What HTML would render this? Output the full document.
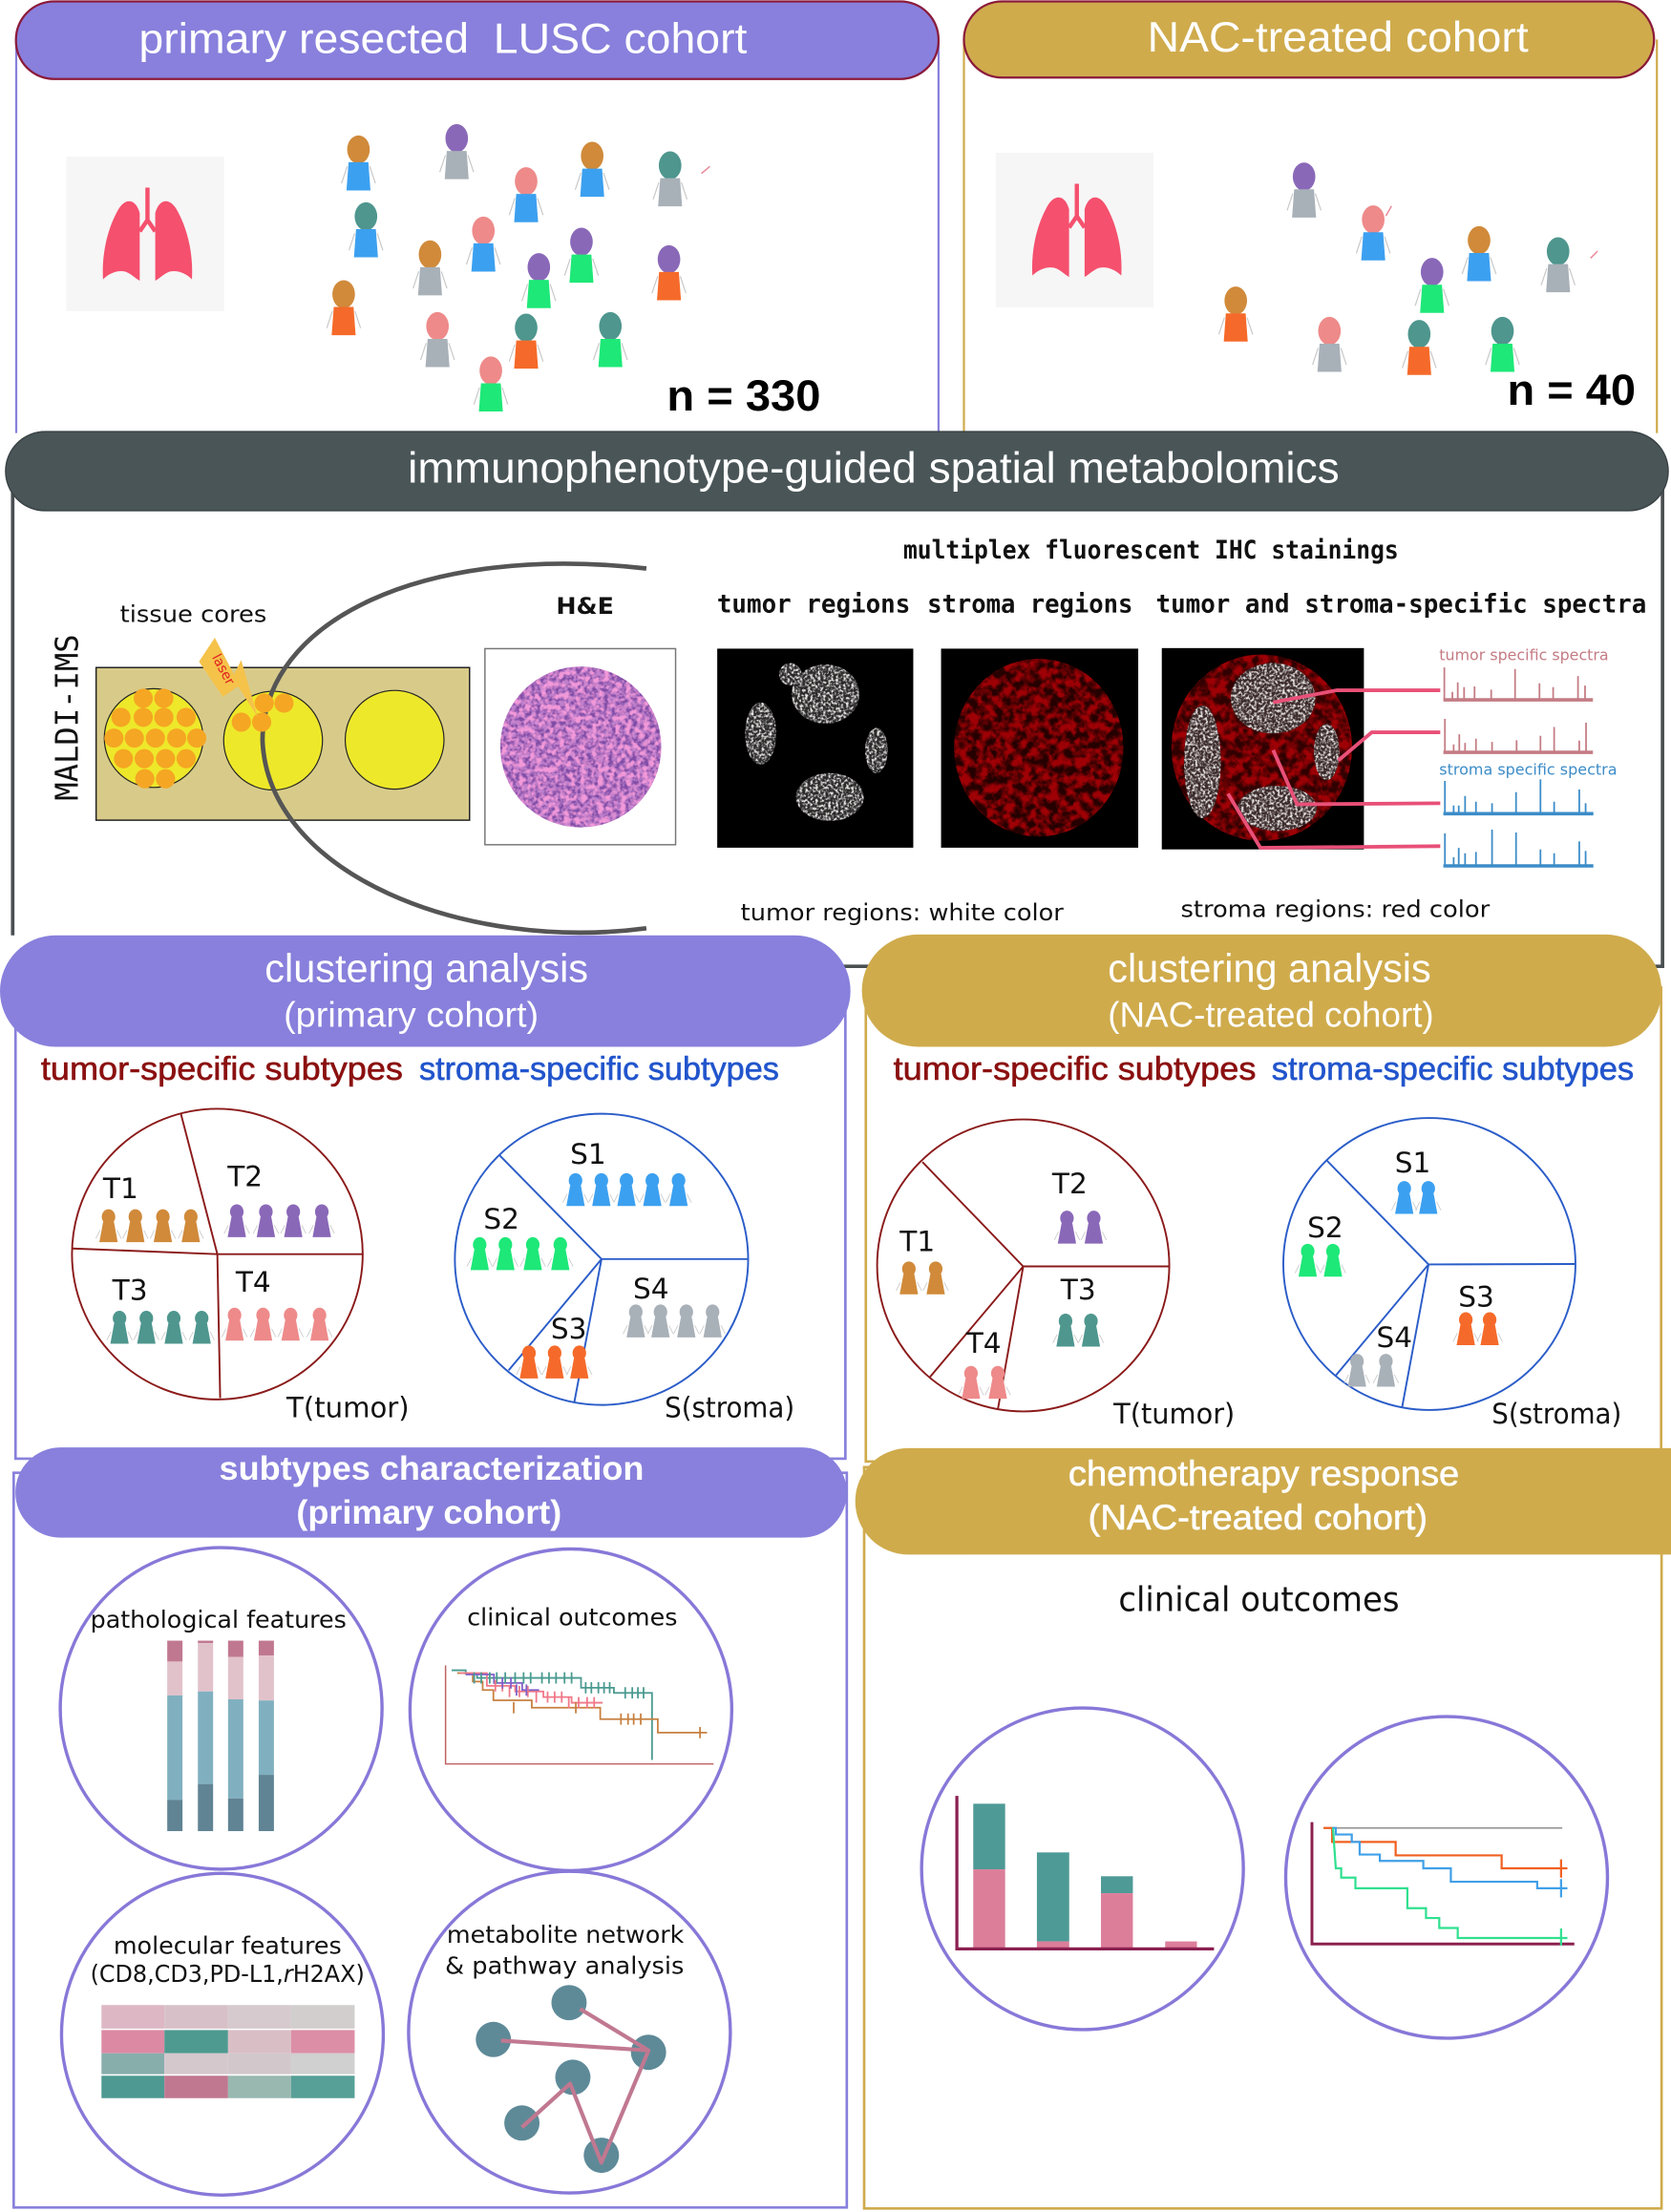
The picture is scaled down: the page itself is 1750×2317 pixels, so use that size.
<!DOCTYPE html>
<html><head><meta charset="utf-8"><style>html,body{margin:0;padding:0;background:#fff}svg{display:block}</style></head>
<body>
<svg xmlns="http://www.w3.org/2000/svg" width="1750" height="2317" viewBox="0 0 1184 1568" preserveAspectRatio="none">
<defs>
  <g id="P">
    <ellipse cx="0" cy="0" rx="8" ry="10" fill="currentColor"/>
    <path d="M-7,9 L7,9 L8.5,29 L-8.5,29Z"/>
    <path d="M-8,12 L-12,24 M8,12 L12,24" stroke="#c8c8c8" stroke-width="0.8" fill="none"/>
  </g>
  <g id="q">
    <ellipse cx="0" cy="-6.5" rx="4.8" ry="5.3"/>
    <path d="M-3.8,-3 L3.8,-3 L6.5,11.5 L-6.5,11.5Z"/>
    <path d="M-6,3 L-9,9 M6,3 L9,9" stroke="#ccc" stroke-width="0.6" fill="none"/>
  </g>
  <filter id="fw" x="-5%" y="-5%" width="110%" height="110%" color-interpolation-filters="sRGB">
    <feTurbulence type="fractalNoise" baseFrequency="0.55" numOctaves="2" seed="4" result="n"/>
    <feColorMatrix in="n" type="matrix" values="0 0 0 0 0.92  0 0 0 0 0.9  0 0 0 0 0.9  3.6 0 0 0 -1.55" result="m"/>
    <feComposite in="m" in2="SourceGraphic" operator="in"/>
  </filter>
  <filter id="fr" x="-5%" y="-5%" width="110%" height="110%" color-interpolation-filters="sRGB">
    <feTurbulence type="fractalNoise" baseFrequency="0.16" numOctaves="3" seed="7" result="n"/>
    <feColorMatrix in="n" type="matrix" values="0 0 0 0 0.62  0 0 0 0 0.0  0 0 0 0 0.02  3.2 0 0 0 -1.1" result="m"/>
    <feComposite in="m" in2="SourceGraphic" operator="in"/>
  </filter>
  <filter id="fp" x="-5%" y="-5%" width="110%" height="110%" color-interpolation-filters="sRGB">
    <feTurbulence type="fractalNoise" baseFrequency="0.35" numOctaves="2" seed="9" result="n"/>
    <feColorMatrix in="n" type="matrix" values="0 0 0 0 0.5  0 0 0 0 0.3  0 0 0 0 0.65  4 0 0 0 -1.5" result="m"/>
    <feComposite in="m" in2="SourceGraphic" operator="in"/>
  </filter>
  <filter id="fk" x="-5%" y="-5%" width="110%" height="110%" color-interpolation-filters="sRGB">
    <feTurbulence type="fractalNoise" baseFrequency="0.25" numOctaves="2" seed="13" result="n"/>
    <feColorMatrix in="n" type="matrix" values="0 0 0 0 0.95  0 0 0 0 0.6  0 0 0 0 0.85  4 0 0 0 -1.7" result="m"/>
    <feComposite in="m" in2="SourceGraphic" operator="in"/>
  </filter>
  <g id="lung">
    <rect x="46.9" y="111" width="111.9" height="109.6" fill="#f6f6f6"/>
    <path d="M99,151 C96,140 88,140 83,150 C76,163 72,180 73,198 C78,193 85,191 90,193 C94,195 97,198 99,199 Z" fill="#F5506E"/>
    <path d="M110,151 C113,140 121,140 126,150 C133,163 137,180 136,198 C131,193 124,191 119,193 C115,195 112,198 110,199 Z" fill="#F5506E"/>
    <path d="M104.5,133 V158 M104.5,156 L99,164 M104.5,156 L110,164" stroke="#F5506E" stroke-width="3" fill="none"/>
  </g>
</defs>

<!-- ===== Top cohort panels ===== -->
<path d="M11.5,28 V307 M665,28 V307" stroke="#8880DC" stroke-width="1.5" fill="none"/>
<path d="M683,28 V307 M1174,28 V307" stroke="#CFAB4C" stroke-width="1.5" fill="none"/>
<rect x="11.3" y="1" width="653.7" height="55" rx="27" fill="#8880DC" stroke="#8B1A3A" stroke-width="1.5"/>
<rect x="683" y="1" width="489" height="54" rx="27" fill="#CFAB4C" stroke="#8B1A3A" stroke-width="1.5"/>
<text x="98.4" y="37.5" font-family="Liberation Sans, Arial, sans-serif" font-size="30" fill="#fff" textLength="431" lengthAdjust="spacingAndGlyphs">primary resected &#160;LUSC cohort</text>
<text x="813" y="36.5" font-family="Liberation Sans, Arial, sans-serif" font-size="30" fill="#fff" textLength="270" lengthAdjust="spacingAndGlyphs">NAC-treated cohort</text>

<use href="#lung"/>
<use href="#lung" transform="translate(658.5,-2.7)"/>

<!-- left people -->
<use href="#P" x="254" y="106" color="#D08A3A" fill="#3CA0F0"/>
<use href="#P" x="323.6" y="98" color="#8A68B8" fill="#A8B0B8"/>
<use href="#P" x="419.6" y="110.5" color="#D08A3A" fill="#3CA0F0"/>
<use href="#P" x="474.8" y="117.3" color="#4E968E" fill="#A8B0B8"/>
<use href="#P" x="372.8" y="128.5" color="#EE8A8A" fill="#3CA0F0"/>
<use href="#P" x="259.3" y="153.4" color="#4E968E" fill="#3CA0F0"/>
<use href="#P" x="342.5" y="163.5" color="#EE8A8A" fill="#3CA0F0"/>
<use href="#P" x="304.7" y="180.4" color="#D08A3A" fill="#A8B0B8"/>
<use href="#P" x="412" y="171.4" color="#8A68B8" fill="#1EE878"/>
<use href="#P" x="381.8" y="189.4" color="#8A68B8" fill="#1EE878"/>
<use href="#P" x="474" y="183.8" color="#8A68B8" fill="#F56A2A"/>
<use href="#P" x="243.5" y="208.6" color="#D08A3A" fill="#F56A2A"/>
<use href="#P" x="310" y="231.2" color="#EE8A8A" fill="#A8B0B8"/>
<use href="#P" x="372.8" y="232.3" color="#4E968E" fill="#F56A2A"/>
<use href="#P" x="432.5" y="231.2" color="#4E968E" fill="#1EE878"/>
<use href="#P" x="347.8" y="262.7" color="#EE8A8A" fill="#1EE878"/>
<!-- right people -->
<use href="#P" x="924" y="125.2" color="#8A68B8" fill="#A8B0B8"/>
<use href="#P" x="973" y="155.6" color="#EE8A8A" fill="#3CA0F0"/>
<use href="#P" x="1048" y="170.3" color="#D08A3A" fill="#3CA0F0"/>
<use href="#P" x="1104" y="178.2" color="#4E968E" fill="#A8B0B8"/>
<use href="#P" x="1014.7" y="192.8" color="#8A68B8" fill="#1EE878"/>
<use href="#P" x="875.6" y="213.1" color="#D08A3A" fill="#F56A2A"/>
<use href="#P" x="942" y="234.6" color="#EE8A8A" fill="#A8B0B8"/>
<use href="#P" x="1005.6" y="236.8" color="#4E968E" fill="#F56A2A"/>
<use href="#P" x="1064.6" y="234.6" color="#4E968E" fill="#1EE878"/>
<path d="M497,123 L503,118 M982,153 L986,146 M1127,183 L1132,178" stroke="#E88A9A" stroke-width="1" fill="none"/>

<text x="472.5" y="291" font-family="Liberation Sans, Arial, sans-serif" font-weight="bold" font-size="31" fill="#000" textLength="109" lengthAdjust="spacingAndGlyphs">n = 330</text>
<text x="1068" y="287" font-family="Liberation Sans, Arial, sans-serif" font-weight="bold" font-size="31" fill="#000" textLength="91" lengthAdjust="spacingAndGlyphs">n = 40</text>

<!-- ===== Middle panel ===== -->
<path d="M9,335 V663 M1178,335 V685 H9" stroke="#4A4F52" stroke-width="2.5" fill="none"/>
<rect x="4" y="306" width="1178" height="56" rx="28" fill="#4A5558" stroke="#3a4346" stroke-width="1"/>
<text x="289" y="342" font-family="Liberation Sans, Arial, sans-serif" font-size="31" fill="#fff" textLength="660" lengthAdjust="spacingAndGlyphs">immunophenotype-guided spatial metabolomics</text>

<text transform="translate(55,508.6) rotate(-90)" text-anchor="middle" font-family="DejaVu Sans Mono, Liberation Mono, monospace" font-size="22" fill="#111" textLength="118" lengthAdjust="spacingAndGlyphs">MALDI-IMS</text>
<text x="85" y="441" font-family="DejaVu Sans, Verdana, sans-serif" font-size="16" fill="#111" textLength="104" lengthAdjust="spacingAndGlyphs">tissue cores</text>

<rect x="68.1" y="473.2" width="264.6" height="108.2" fill="#D8CB8A" stroke="#222" stroke-width="1"/>
<circle cx="108.9" cy="523.2" r="35" fill="#EEE82A" stroke="#222" stroke-width="0.8"/>
<circle cx="193.5" cy="525" r="35" fill="#EEE82A" stroke="#222" stroke-width="0.8"/>
<circle cx="279.6" cy="524.4" r="35" fill="#EEE82A" stroke="#222" stroke-width="0.8"/>
<path d="M458,403 C300,385 186,440 186,525 C190,620 330,675 458,658" stroke="#555" stroke-width="3.2" fill="none"/>
<g fill="#F5A623">
  <circle cx="101.5" cy="495" r="6.8"/><circle cx="116.1" cy="495" r="6.8"/>
  <circle cx="85.7" cy="508.5" r="6.8"/><circle cx="101.5" cy="508.5" r="6.8"/><circle cx="116.1" cy="508.5" r="6.8"/><circle cx="131.9" cy="508.5" r="6.8"/>
  <circle cx="80.7" cy="523.2" r="6.8"/><circle cx="95.2" cy="523.2" r="6.8"/><circle cx="110.1" cy="523.2" r="6.8"/><circle cx="125.2" cy="523.2" r="6.8"/><circle cx="139.4" cy="523.2" r="6.8"/>
  <circle cx="87.5" cy="537.8" r="6.8"/><circle cx="102.2" cy="537.8" r="6.8"/><circle cx="117.3" cy="537.8" r="6.8"/><circle cx="131.9" cy="537.8" r="6.8"/>
  <circle cx="102.6" cy="552" r="6.8"/><circle cx="117.3" cy="552" r="6.8"/>
  <circle cx="187.2" cy="498.4" r="6.8"/><circle cx="201.2" cy="498.4" r="6.8"/><circle cx="171" cy="511.9" r="6.8"/><circle cx="185.4" cy="511.9" r="6.8"/>
</g>
<polygon points="152.2,452.1 165.8,478.1 170.9,467.9 182.7,508.5 168.7,486.6 157.9,493.9 141,469" fill="#F5C24A"/>
<text transform="translate(155.5,476) rotate(62)" text-anchor="middle" font-family="DejaVu Sans, sans-serif" font-size="9.5" fill="#E02020">laser</text>

<text x="394" y="435" font-family="DejaVu Sans, Verdana, sans-serif" font-weight="bold" font-size="16" fill="#111" textLength="41" lengthAdjust="spacingAndGlyphs">H&amp;E</text>
<rect x="343.6" y="459.8" width="135.1" height="139" fill="#fff" stroke="#777" stroke-width="1"/>
<circle cx="411.5" cy="529.5" r="57" fill="#C080CC"/>
<circle cx="411.5" cy="529.5" r="57" fill="#000" filter="url(#fp)"/>
<circle cx="411.5" cy="529.5" r="57" fill="#000" filter="url(#fk)"/>

<text x="640" y="396" font-family="DejaVu Sans Mono, DejaVu Sans, monospace" font-weight="bold" font-size="18" fill="#111" textLength="351" lengthAdjust="spacingAndGlyphs">multiplex fluorescent IHC stainings</text>
<text x="508" y="434" font-family="DejaVu Sans Mono, DejaVu Sans, monospace" font-weight="bold" font-size="18" fill="#111" textLength="137" lengthAdjust="spacingAndGlyphs">tumor regions</text>
<text x="657" y="434" font-family="DejaVu Sans Mono, DejaVu Sans, monospace" font-weight="bold" font-size="18" fill="#111" textLength="145.7" lengthAdjust="spacingAndGlyphs">stroma regions</text>
<text x="819" y="434" font-family="DejaVu Sans Mono, DejaVu Sans, monospace" font-weight="bold" font-size="18" fill="#111" textLength="347.6" lengthAdjust="spacingAndGlyphs">tumor and stroma-specific spectra</text>

<!-- tumor image -->
<rect x="508.2" y="459.8" width="138.9" height="141.1" fill="#000"/>
<g fill="#2a2a2a">
  <ellipse cx="539" cy="520" rx="11" ry="22"/>
  <ellipse cx="585" cy="492" rx="24" ry="21"/>
  <ellipse cx="621" cy="532" rx="8" ry="16"/>
  <ellipse cx="588" cy="565" rx="24" ry="17"/>
  <ellipse cx="560" cy="478" rx="8" ry="8"/>
</g>
<g fill="#000" filter="url(#fw)">
  <ellipse cx="539" cy="520" rx="11" ry="22"/>
  <ellipse cx="585" cy="492" rx="24" ry="21"/>
  <ellipse cx="621" cy="532" rx="8" ry="16"/>
  <ellipse cx="588" cy="565" rx="24" ry="17"/>
  <ellipse cx="560" cy="478" rx="8" ry="8"/>
</g>
<!-- stroma image -->
<rect x="666.8" y="459.8" width="139.7" height="141.1" fill="#000"/>
<ellipse cx="736" cy="530" rx="60" ry="63" fill="#250000"/>
<ellipse cx="736" cy="530" rx="60" ry="63" fill="#000" filter="url(#fr)"/>
<!-- combined image -->
<rect x="823.2" y="459.4" width="143.2" height="142.7" fill="#000"/>
<ellipse cx="894" cy="530" rx="64" ry="66" fill="#300000"/>
<ellipse cx="894" cy="530" rx="64" ry="66" fill="#000" filter="url(#fr)"/>
<g fill="#3a2a2a">
  <ellipse cx="852" cy="540" rx="13" ry="40"/>
  <ellipse cx="902" cy="495" rx="30" ry="25"/>
  <ellipse cx="940" cy="533" rx="9" ry="20"/>
  <ellipse cx="905" cy="573" rx="28" ry="16"/>
</g>
<g fill="#000" filter="url(#fw)">
  <ellipse cx="852" cy="540" rx="13" ry="40"/>
  <ellipse cx="902" cy="495" rx="30" ry="25"/>
  <ellipse cx="940" cy="533" rx="9" ry="20"/>
  <ellipse cx="905" cy="573" rx="28" ry="16"/>
</g>
<!-- connectors -->
<g stroke="#E85078" stroke-width="2.6" fill="none">
  <path d="M902.1,497.9 L947.2,489.3 H1020.5"/>
  <path d="M948.3,539 L972,519.1 H1020.5"/>
  <path d="M902.1,531.7 L919,570.1 L1020.5,569.4"/>
  <path d="M870.1,562.6 L893.1,601 L1020.5,599.8"/>
</g>
<!-- spectra -->
<text x="1019.8" y="467.9" font-family="DejaVu Sans, Verdana, sans-serif" font-size="11" fill="#C47C84" textLength="120" lengthAdjust="spacingAndGlyphs">tumor specific spectra</text>
<text x="1019.8" y="549.1" font-family="DejaVu Sans, Verdana, sans-serif" font-size="11" fill="#3C8CC8" textLength="126" lengthAdjust="spacingAndGlyphs">stroma specific spectra</text>
<g stroke="#C47C84" stroke-width="1.2" fill="none">
  <path d="M1022.7,496.1 H1128.7" stroke-width="2.4"/>
  <path d="M1023.4,496 V473.1 M1029.1,496 V490.5 M1032.9,496 V483.7 M1037.4,496 V487.1 M1044.8,496 V486.6 M1056.6,496 V488.9 M1073.5,496 V474.2 M1090.8,496 V484.4 M1100.5,496 V487.1 M1118.1,496 V479.2 M1123.1,496 V486"/>
  <path d="M1022.7,533.3 H1128.7" stroke-width="2.4"/>
  <path d="M1023.8,533 V509.6 M1030,533 V527.7 M1034,533 V520.5 M1038.1,533 V526.6 M1045.8,533 V523.6 M1057.2,533 V525.9 M1074.6,533 V524.7 M1091.5,533 V521.6 M1101.2,533 V515.3 M1119,533 V525 M1123.8,533 V512.3"/>
</g>
<g stroke="#3C8CC8" stroke-width="1.2" fill="none">
  <path d="M1022.7,576.8 H1129" stroke-width="2.4"/>
  <path d="M1023.8,576.5 V553.6 M1030,576.5 V571 M1033.6,576.5 V571 M1038.1,576.5 V564.2 M1045.8,576.5 V568.3 M1057.2,576.5 V569.4 M1074.2,576.5 V561.5 M1091.5,576.5 V552.5 M1101.2,576.5 V568.3 M1119,576.5 V559.7 M1123.5,576.5 V569.4"/>
  <path d="M1022.7,613.8 H1129" stroke-width="2.4"/>
  <path d="M1023.8,613.5 V590.8 M1030,613.5 V607.7 M1033.6,613.5 V601 M1038.1,613.5 V604.8 M1045.8,613.5 V603.9 M1057.2,613.5 V588.1 M1074.2,613.5 V590.1 M1091.5,613.5 V602.1 M1101.2,613.5 V604.8 M1119,613.5 V596.5 M1123.5,613.5 V603.2"/>
</g>
<text x="524.8" y="652.4" font-family="DejaVu Sans, Verdana, sans-serif" font-size="16" fill="#111" textLength="228.8" lengthAdjust="spacingAndGlyphs">tumor regions: white color</text>
<text x="836.6" y="650" font-family="DejaVu Sans, Verdana, sans-serif" font-size="16" fill="#111" textLength="219" lengthAdjust="spacingAndGlyphs">stroma regions: red color</text>

<!-- ===== Clustering panels ===== -->
<rect x="11" y="700" width="588" height="334" fill="none" stroke="#8880DC" stroke-width="1.8"/>
<rect x="613.5" y="700" width="563.5" height="336" fill="none" stroke="#CFAB4C" stroke-width="1.8"/>
<rect x="0" y="663" width="602.6" height="79" rx="39.5" fill="#8880DC"/>
<rect x="610.7" y="662.4" width="566.6" height="79.6" rx="39.8" fill="#CFAB4C"/>
<text x="187.6" y="696" font-family="Liberation Sans, Arial, sans-serif" font-size="28" fill="#fff" textLength="229.2" lengthAdjust="spacingAndGlyphs">clustering analysis</text>
<text x="201" y="728" font-family="Liberation Sans, Arial, sans-serif" font-size="25" fill="#fff" textLength="180.7" lengthAdjust="spacingAndGlyphs">(primary cohort)</text>
<text x="785" y="696" font-family="Liberation Sans, Arial, sans-serif" font-size="28" fill="#fff" textLength="229" lengthAdjust="spacingAndGlyphs">clustering analysis</text>
<text x="785" y="728" font-family="Liberation Sans, Arial, sans-serif" font-size="25" fill="#fff" textLength="231" lengthAdjust="spacingAndGlyphs">(NAC-treated cohort)</text>

<g font-family="Liberation Sans, Arial, sans-serif" font-size="23">
  <text x="29" y="765.5" fill="#8B1010" stroke="#8B1010" stroke-width="0.4" textLength="256.5" lengthAdjust="spacingAndGlyphs">tumor-specific subtypes</text>
  <text x="297" y="765.5" fill="#2255CC" stroke="#2255CC" stroke-width="0.4" textLength="255" lengthAdjust="spacingAndGlyphs">stroma-specific subtypes</text>
  <text x="633" y="765.5" fill="#8B1010" stroke="#8B1010" stroke-width="0.4" textLength="257" lengthAdjust="spacingAndGlyphs">tumor-specific subtypes</text>
  <text x="901" y="765.5" fill="#2255CC" stroke="#2255CC" stroke-width="0.4" textLength="256.7" lengthAdjust="spacingAndGlyphs">stroma-specific subtypes</text>
</g>

<!-- left T pie -->
<circle cx="154" cy="889" r="103" fill="none" stroke="#8B1A1A" stroke-width="1.3"/>
<path d="M128,788.8 L154,889 L156,991 M51,885 L154,889 L257,889" stroke="#8B1A1A" stroke-width="1.3" fill="none"/>
<!-- left S pie -->
<ellipse cx="426.2" cy="892.7" rx="103.9" ry="103.2" fill="none" stroke="#2A5CC8" stroke-width="1.3"/>
<path d="M354,819 L426.2,892.5 L529.4,892.5 M426.2,892.5 L407,993.6 M426.2,892.5 L360.4,971.4" stroke="#2A5CC8" stroke-width="1.3" fill="none"/>
<!-- right T pie -->
<circle cx="725" cy="897" r="103.5" fill="none" stroke="#8B1A1A" stroke-width="1.3"/>
<path d="M653.6,823.7 L725,897.7 L829,897.7 M725,897.7 L659,976 M725,897.7 L707,999.3" stroke="#8B1A1A" stroke-width="1.3" fill="none"/>
<!-- right S pie -->
<circle cx="1012.8" cy="896" r="103.5" fill="none" stroke="#2A5CC8" stroke-width="1.3"/>
<path d="M940,822.5 L1012.2,896.3 L1116.6,896 M1012.2,896.3 L946.5,975 M1012.2,896.3 L993.4,998" stroke="#2A5CC8" stroke-width="1.3" fill="none"/>

<g font-family="DejaVu Sans, Verdana, sans-serif" font-size="20" fill="#111">
  <text x="73" y="849.3">T1</text>
  <text x="161.2" y="841">T2</text>
  <text x="79.6" y="921.4">T3</text>
  <text x="167" y="915.6">T4</text>
  <text x="404" y="824.8">S1</text>
  <text x="342.6" y="870.9">S2</text>
  <text x="390.3" y="948.9">S3</text>
  <text x="448.6" y="920.2">S4</text>
  <text x="203" y="1004.5" textLength="87" lengthAdjust="spacingAndGlyphs">T(tumor)</text>
  <text x="471" y="1004.5" textLength="92" lengthAdjust="spacingAndGlyphs">S(stroma)</text>
  <g text-anchor="middle">
    <text x="758" y="846">T2</text>
    <text x="650" y="887">T1</text>
    <text x="764" y="921">T3</text>
    <text x="697" y="959">T4</text>
    <text x="1001" y="831">S1</text>
    <text x="939" y="877">S2</text>
    <text x="1046" y="926">S3</text>
    <text x="988" y="955">S4</text>
  </g>
  <text x="789" y="1009" textLength="86" lengthAdjust="spacingAndGlyphs">T(tumor)</text>
  <text x="1057" y="1009" textLength="92" lengthAdjust="spacingAndGlyphs">S(stroma)</text>
</g>

<!-- small people left -->
<g fill="#D08A3A"><use href="#q" x="76.9" y="869"/><use href="#q" x="95.9" y="869"/><use href="#q" x="115.4" y="869"/><use href="#q" x="135.2" y="869"/></g>
<g fill="#8A68B8"><use href="#q" x="167.8" y="865.5"/><use href="#q" x="188.4" y="865.5"/><use href="#q" x="207.8" y="865.5"/><use href="#q" x="228" y="865.5"/></g>
<g fill="#4E968E"><use href="#q" x="84.7" y="941"/><use href="#q" x="103.7" y="941"/><use href="#q" x="123.1" y="941"/><use href="#q" x="142.9" y="941"/></g>
<g fill="#EE8A8A"><use href="#q" x="166.2" y="938.8"/><use href="#q" x="186.4" y="938.8"/><use href="#q" x="205.9" y="938.8"/><use href="#q" x="226.4" y="938.8"/></g>
<g fill="#3CA0F0"><use href="#q" x="407.8" y="843.4"/><use href="#q" x="426.1" y="843.4"/><use href="#q" x="443.9" y="843.4"/><use href="#q" x="462.2" y="843.4"/><use href="#q" x="480.8" y="843.4"/></g>
<g fill="#1EE878"><use href="#q" x="339.9" y="888.8"/><use href="#q" x="358.1" y="888.8"/><use href="#q" x="377.5" y="888.8"/><use href="#q" x="397" y="888.8"/></g>
<g fill="#F56A2A"><use href="#q" x="374.8" y="965.6"/><use href="#q" x="393" y="965.6"/><use href="#q" x="410.5" y="965.6"/></g>
<g fill="#A8B0B8"><use href="#q" x="450.5" y="936.5"/><use href="#q" x="468" y="936.5"/><use href="#q" x="486.3" y="936.5"/><use href="#q" x="504.9" y="936.5"/></g>
<!-- small people right -->
<g fill="#8A68B8"><use href="#q" x="756" y="870"/><use href="#q" x="775" y="870"/></g>
<g fill="#D08A3A"><use href="#q" x="644" y="906"/><use href="#q" x="663" y="906"/></g>
<g fill="#4E968E"><use href="#q" x="755" y="943"/><use href="#q" x="773" y="943"/></g>
<g fill="#EE8A8A"><use href="#q" x="688" y="980"/><use href="#q" x="707" y="980"/></g>
<g fill="#3CA0F0"><use href="#q" x="995" y="849"/><use href="#q" x="1012" y="849"/></g>
<g fill="#1EE878"><use href="#q" x="926.6" y="893.5"/><use href="#q" x="944.5" y="893.5"/></g>
<g fill="#F56A2A"><use href="#q" x="1038.6" y="942"/><use href="#q" x="1055.5" y="942"/></g>
<g fill="#A8B0B8"><use href="#q" x="961.5" y="971.5"/><use href="#q" x="982" y="971.5"/></g>

<!-- ===== Bottom panels ===== -->
<rect x="9.7" y="1044" width="590.3" height="520.8" fill="none" stroke="#8880DC" stroke-width="1.8"/>
<rect x="612.3" y="1040" width="565" height="525.5" fill="none" stroke="#CFAB4C" stroke-width="1.8"/>
<rect x="10.9" y="1026" width="589.1" height="64" rx="32" fill="#8880DC"/>
<rect x="606" y="1026.5" width="620" height="75.5" rx="37.7" fill="#CFAB4C"/>
<text x="155.3" y="1049" font-family="Liberation Sans, Arial, sans-serif" font-weight="bold" font-size="24" fill="#fff" textLength="301" lengthAdjust="spacingAndGlyphs">subtypes characterization</text>
<text x="210" y="1080" font-family="Liberation Sans, Arial, sans-serif" font-weight="bold" font-size="24" fill="#fff" textLength="188" lengthAdjust="spacingAndGlyphs">(primary cohort)</text>
<text x="757" y="1053" font-family="Liberation Sans, Arial, sans-serif" font-size="25" fill="#fff" stroke="#fff" stroke-width="0.4" textLength="277" lengthAdjust="spacingAndGlyphs">chemotherapy response</text>
<text x="771" y="1084" font-family="Liberation Sans, Arial, sans-serif" font-size="25" fill="#fff" stroke="#fff" stroke-width="0.4" textLength="240.5" lengthAdjust="spacingAndGlyphs">(NAC-treated cohort)</text>

<g fill="none" stroke="#8878D8" stroke-width="2.3">
  <circle cx="156.7" cy="1211" r="114"/>
  <circle cx="404.5" cy="1212" r="114"/>
  <circle cx="157.6" cy="1442" r="114"/>
  <circle cx="403.5" cy="1440.5" r="114"/>
  <circle cx="767" cy="1324.7" r="114"/>
  <circle cx="1025" cy="1330.8" r="114"/>
</g>

<g font-family="DejaVu Sans, Verdana, sans-serif" font-size="17" fill="#111">
  <text x="64" y="1154" textLength="181.5" lengthAdjust="spacingAndGlyphs">pathological features</text>
  <text x="331" y="1152" textLength="149" lengthAdjust="spacingAndGlyphs">clinical outcomes</text>
  <text x="80.4" y="1385" textLength="161.6" lengthAdjust="spacingAndGlyphs">molecular features</text>
  <text x="64" y="1405" textLength="194.3" lengthAdjust="spacingAndGlyphs">(CD8,CD3,PD-L1,<tspan font-style="italic">r</tspan>H2AX)</text>
  <text x="316.6" y="1377" textLength="168.1" lengthAdjust="spacingAndGlyphs">metabolite network</text>
  <text x="315.4" y="1399" textLength="169.3" lengthAdjust="spacingAndGlyphs">&amp; pathway analysis</text>
</g>
<text x="792.5" y="1142" font-family="DejaVu Sans, Verdana, sans-serif" font-size="24" fill="#111" textLength="199" lengthAdjust="spacingAndGlyphs">clinical outcomes</text>

<!-- pathological bars -->
<g>
  <rect x="118.5" y="1163" width="10.8" height="14.8" fill="#C07890"/>
  <rect x="118.5" y="1177.8" width="10.8" height="24" fill="#E2C2CA"/>
  <rect x="118.5" y="1201.8" width="10.8" height="74" fill="#80B0C0"/>
  <rect x="118.5" y="1275.8" width="10.8" height="22.2" fill="#608494"/>
  <rect x="140.2" y="1163" width="10.8" height="1.7" fill="#C07890"/>
  <rect x="140.2" y="1164.7" width="10.8" height="34.3" fill="#E2C2CA"/>
  <rect x="140.2" y="1199" width="10.8" height="65.6" fill="#80B0C0"/>
  <rect x="140.2" y="1264.6" width="10.8" height="33.4" fill="#608494"/>
  <rect x="161.6" y="1163" width="10.8" height="11.6" fill="#C07890"/>
  <rect x="161.6" y="1174.6" width="10.8" height="30" fill="#E2C2CA"/>
  <rect x="161.6" y="1204.6" width="10.8" height="70.2" fill="#80B0C0"/>
  <rect x="161.6" y="1274.8" width="10.8" height="23.2" fill="#608494"/>
  <rect x="183.3" y="1163" width="10.8" height="10.5" fill="#C07890"/>
  <rect x="183.3" y="1173.5" width="10.8" height="31.9" fill="#E2C2CA"/>
  <rect x="183.3" y="1205.4" width="10.8" height="52.7" fill="#80B0C0"/>
  <rect x="183.3" y="1258.1" width="10.8" height="39.9" fill="#608494"/>
</g>

<!-- KM primary -->
<path d="M315.7,1180.6 V1250.4 H505.6" stroke="#C06060" stroke-width="1" fill="none"/>
<g fill="none" stroke-width="1.2">
  <path d="M320,1184 H330 V1186.5 H338 V1189.4 H411.7 V1196.4 H435 V1200 H462 V1247.6" stroke="#4A9A90"/>
  <path d="M324,1186 H335 V1192 H342 V1198 H349.6 V1205.3 H376.8 V1210.5 H425.3 V1218.6 H466.1 V1228.2 H501" stroke="#C88040"/>
  <path d="M326,1186 H345 V1195 H365 V1199 H385 V1203 H405 V1207 H427" stroke="#F07888"/>
  <path d="M330,1187 H350 V1193 H370 V1198 H382" stroke="#8060C8"/>
  <path d="M336,1185.4 v8 M341,1185.4 v8 M347,1185.4 v8 M352,1185.4 v8 M358,1185.4 v8 M365,1185.4 v8 M371,1185.4 v8 M376,1185.4 v8 M384,1185.4 v8 M389,1185.4 v8 M394,1185.4 v8 M400,1185.4 v8 M405,1185.4 v8 M415,1192.4 v8 M419,1192.4 v8 M424,1192.4 v8 M428,1192.4 v8 M432,1192.4 v8 M443,1196 v8 M448,1196 v8 M452,1196 v8 M456,1196 v8" stroke="#4A9A90"/>
  <path d="M351,1191 v8 M356,1191 v8 M361,1195 v8 M368,1195 v8 M374,1195 v8 M380,1199 v8 M388,1199 v8 M393,1199 v8 M398,1199 v8 M403,1203 v8 M410,1203 v8 M416,1203 v8 M421,1203 v8" stroke="#F07888"/>
  <path d="M356,1189 v8 M362,1189 v8 M366,1194 v8 M373,1194 v8" stroke="#8060C8"/>
  <path d="M364,1206.5 v8 M408,1206.5 v8 M440,1214.6 v8 M445,1214.6 v8 M449,1214.6 v8 M454,1214.6 v8 M496,1224.2 v8" stroke="#C88040"/>
</g>

<!-- heatmap -->
<g>
  <rect x="71.9" y="1421.3" width="44.6" height="16.7" fill="#DDB8C4"/>
  <rect x="116.5" y="1421.3" width="45.1" height="16.7" fill="#D8C0C8"/>
  <rect x="161.6" y="1421.3" width="44.7" height="16.7" fill="#D6CACE"/>
  <rect x="206.3" y="1421.3" width="45" height="16.7" fill="#D2CECE"/>
  <rect x="71.9" y="1439" width="44.6" height="16.5" fill="#DC8AA4"/>
  <rect x="116.5" y="1439" width="45.1" height="16.5" fill="#4E9A90"/>
  <rect x="161.6" y="1439" width="44.7" height="16.5" fill="#DABEC6"/>
  <rect x="206.3" y="1439" width="45" height="16.5" fill="#DC8EA6"/>
  <rect x="71.9" y="1455.5" width="44.6" height="14.8" fill="#88AEAC"/>
  <rect x="116.5" y="1455.5" width="45.1" height="14.8" fill="#D4C8CC"/>
  <rect x="161.6" y="1455.5" width="44.7" height="14.8" fill="#D2C8CC"/>
  <rect x="206.3" y="1455.5" width="45" height="14.8" fill="#D0D0D0"/>
  <rect x="71.9" y="1471.4" width="44.6" height="15.9" fill="#4E9A92"/>
  <rect x="116.5" y="1471.4" width="45.1" height="15.9" fill="#C07890"/>
  <rect x="161.6" y="1471.4" width="44.7" height="15.9" fill="#98B8B0"/>
  <rect x="206.3" y="1471.4" width="45" height="15.9" fill="#56A098"/>
</g>

<!-- network -->
<g fill="#5E8A98">
  <circle cx="403.2" cy="1419.6" r="12.5"/>
  <circle cx="349.6" cy="1445.7" r="12.5"/>
  <circle cx="459.5" cy="1454.8" r="12.5"/>
  <circle cx="405.9" cy="1472.5" r="12.5"/>
  <circle cx="369.8" cy="1504.9" r="12.5"/>
  <circle cx="426.1" cy="1527.8" r="12.5"/>
</g>
<path d="M411,1424 L459.5,1453.5 M355,1446.5 L459.5,1453.5 L426.1,1533 L404,1477 L369.8,1508" stroke="#C07890" stroke-width="2.8" fill="none" stroke-linejoin="round"/>

<!-- NAC bar chart -->
<rect x="689.6" y="1278.6" width="22.6" height="46.5" fill="#4E9A96"/>
<rect x="689.6" y="1325.1" width="22.6" height="56.4" fill="#DC7E9A"/>
<rect x="734.7" y="1313.1" width="22.9" height="63.1" fill="#4E9A96"/>
<rect x="734.7" y="1376.2" width="22.9" height="5.3" fill="#DC7E9A"/>
<rect x="780.1" y="1330" width="22.6" height="12" fill="#4E9A96"/>
<rect x="780.1" y="1342" width="22.6" height="39.5" fill="#DC7E9A"/>
<rect x="825.6" y="1376.2" width="22.5" height="5.3" fill="#DC7E9A"/>
<path d="M678,1273 V1381.5 H860.2" stroke="#8B2050" stroke-width="2.2" fill="none"/>

<!-- NAC KM -->
<path d="M929.6,1291.6 V1378 H1115.5" stroke="#8B2050" stroke-width="2" fill="none"/>
<path d="M937.8,1295.8 H1107" stroke="#999" stroke-width="1.2" fill="none"/>
<g fill="none" stroke-width="1.5">
  <path d="M937.8,1295.8 H943.9 V1305.7 H988.9 V1315.2 H1064 V1324.4 H1110.6 M1106.1,1318 V1331" stroke="#F06020"/>
  <path d="M943.9,1295.8 H946.5 V1300.4 H957.8 V1305.7 H963.4 V1314.6 H977.7 V1319.1 H1008.5 V1324.4 H1028 V1333.9 H1089.2 V1338.5 H1110.6 M1106.1,1332 V1345" stroke="#40A0E8"/>
  <path d="M944.5,1295.8 L946.5,1324.4 H950.3 V1331 H960.4 V1338.5 H997.2 V1352.6 H1010.4 V1359.6 H1019.8 V1366.7 H1032.9 V1373.8 H1110.6 M1106.1,1367 V1379" stroke="#30E090"/>
</g>
</svg>
</body></html>
